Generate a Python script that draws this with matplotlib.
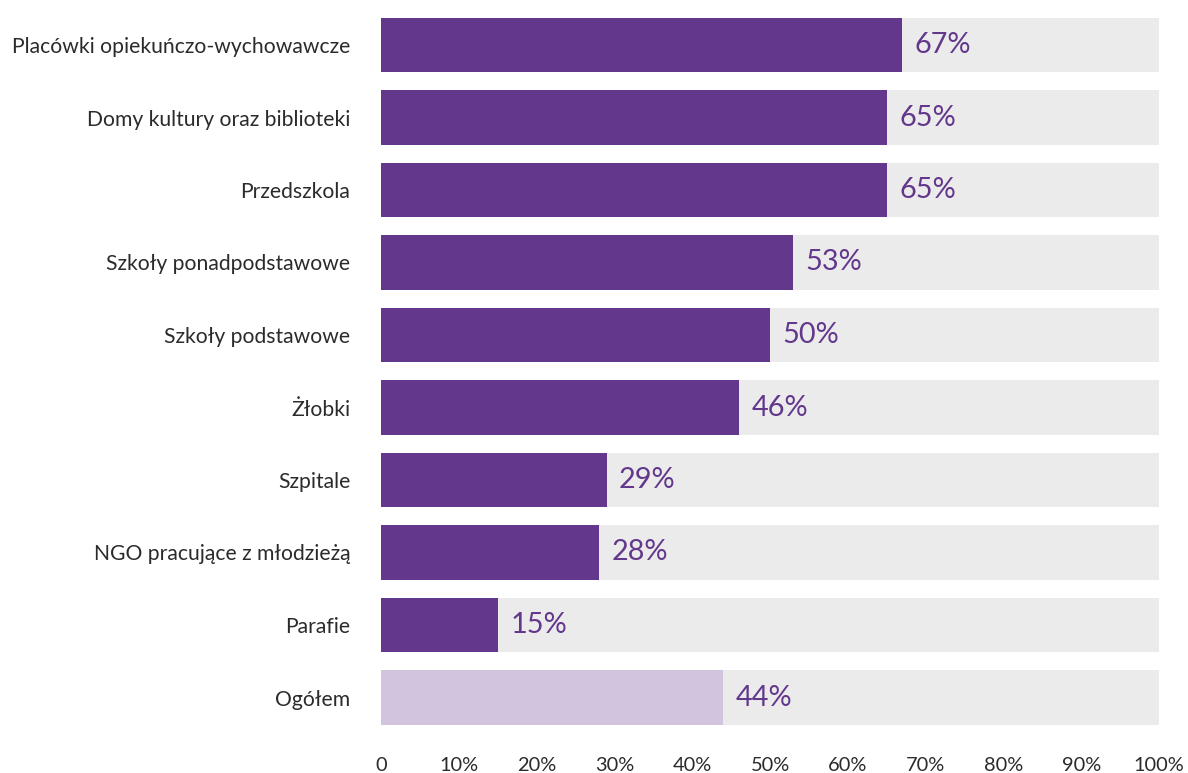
import matplotlib
matplotlib.use("Agg")
import matplotlib.pyplot as plt
from matplotlib.ticker import FixedLocator, FixedFormatter

categories = [
    "Placówki opiekuńczo-wychowawcze",
    "Domy kultury oraz biblioteki",
    "Przedszkola",
    "Szkoły ponadpodstawowe",
    "Szkoły podstawowe",
    "Żłobki",
    "Szpitale",
    "NGO pracujące z młodzieżą",
    "Parafie",
    "Ogółem",
]
values = [67, 65, 65, 53, 50, 46, 29, 28, 15, 44]
tick_values = [0, 10, 20, 30, 40, 50, 60, 70, 80, 90, 100]
tick_labels = ["0", "10%", "20%", "30%", "40%", "50%", "60%", "70%", "80%", "90%", "100%"]

plt.rcParams["font.family"] = ["Lato", "DejaVu Sans"]

purple = "#63378b"
light_purple = "#d2c4de"
track = "#ebebeb"
text_color = "#2b2b2b"

fig = plt.figure(figsize=(11.88, 7.73), dpi=100)
ax = fig.add_axes([381 / 1188, 1 - 733.75 / 773, 778 / 1188, 725 / 773])

y = list(range(len(categories)))
bar_h = 0.745
ax.barh(y, [100] * len(y), height=bar_h, color=track, zorder=1)
colors = [purple] * (len(values) - 1) + [light_purple]
ax.barh(y, values, height=bar_h, color=colors, zorder=2)

for yi, v in zip(y, values):
    ax.annotate(f"{v}%", xy=(v, yi), xytext=(9, 0), textcoords="offset points",
                va="center", ha="left", fontsize=20.8, color=purple, zorder=3)

ax.set_xlim(0, 100)
ax.set_ylim(len(categories) - 0.5, -0.5)
ax.set_yticks(y)
ax.set_yticklabels(categories, fontsize=15.2, color=text_color)
ax.xaxis.set_major_locator(FixedLocator(tick_values))
ax.xaxis.set_major_formatter(FixedFormatter(tick_labels))
ax.tick_params(axis="x", length=0, pad=17, labelsize=14.4, labelcolor=text_color)
ax.tick_params(axis="y", length=0, pad=22)
for s in ax.spines.values():
    s.set_visible(False)

fig.savefig("out.png", dpi=100, facecolor="white")
